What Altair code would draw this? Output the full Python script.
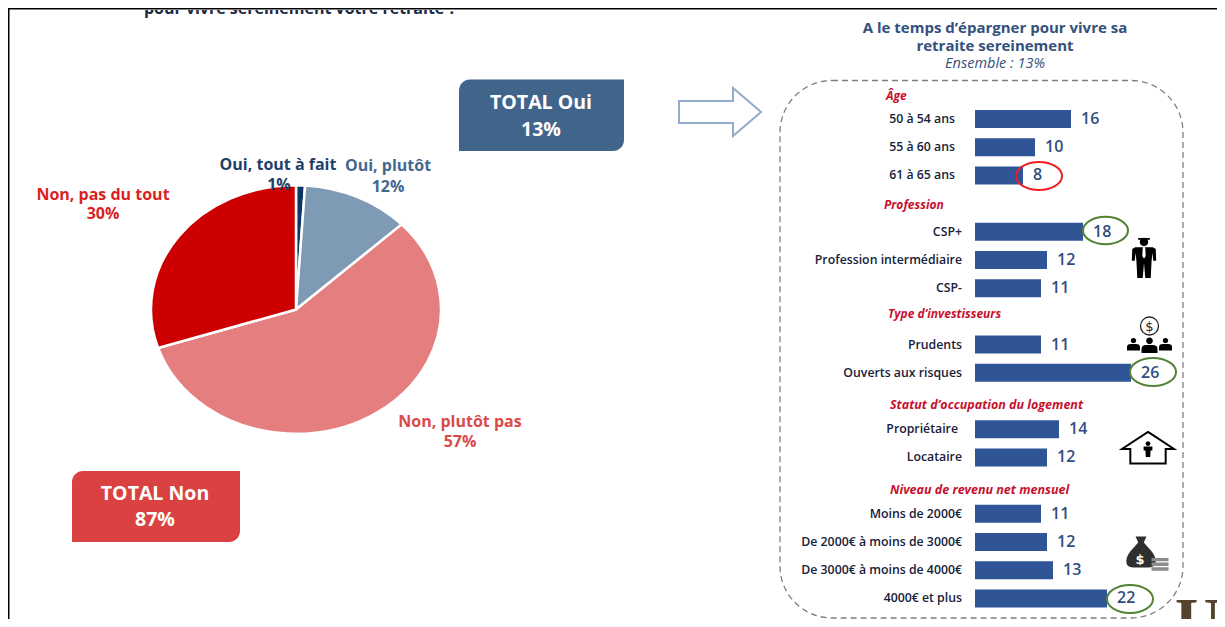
import math
import altair as alt

# --- data ---
pie_labels = ["Oui, tout à fait", "Oui, plutôt", "Non, plutôt pas", "Non, pas du tout"]
pie_values = [1, 12, 57, 30]
pie_colors = ["#0B3563", "#7F9AB5", "#E57F7F", "#CC0000"]

# regular grid of rows; the "_h" slots are where the group headings sit
grid = ["50 à 54 ans", "55 à 60 ans", "61 à 65 ans", "_h1",
        "CSP+", "Profession intermédiaire", "CSP-", "_h2",
        "Prudents", "Ouverts aux risques", "_h3",
        "Propriétaire", "Locataire", "_h4",
        "Moins de 2000€", "De 2000€ à moins de 3000€", "De 3000€ à moins de 4000€", "4000€ et plus"]
cats = [r for r in grid if not r.startswith("_")]
vals = [16, 10, 8, 18, 12, 11, 11, 26, 14, 12, 11, 12, 13, 22]

BAR = "#2F5597"
OX, OY = 8, 8
W, H = 1209, 611
sans = "Open Sans"

# the reference pie is stretched into an ellipse, so each slice is an elliptical path
K = 123.5 / 144
pie_paths = []
acc = 0.0
total = sum(pie_values)
for v in pie_values:
    a0 = 2 * math.pi * acc / total
    acc += v
    a1 = 2 * math.pi * acc / total
    large = 1 if a1 - a0 > math.pi else 0
    pie_paths.append(
        f"M 0 0 L {math.sin(a0):.4f} {-K * math.cos(a0):.4f} "
        f"A 1 {K:.4f} 0 {large} 1 {math.sin(a1):.4f} {-K * math.cos(a1):.4f} Z"
    )

pie_df = [{"label": l, "value": v} for l, v in zip(pie_labels, pie_values)]
bar_df = [{"cat": c, "value": v} for c, v in zip(cats, vals)]

xs = alt.Scale(domain=[0, 26], range=[975 - OX, 1131 - OX])
ys = alt.Scale(domain=grid, range=[104.9 - OY, 612.5 - OY], paddingInner=0.36, paddingOuter=0.18)


def P(x):
    return alt.value(x - OX)


def Q(y):
    return alt.value(y - OY)


def txt(t, x, y, size=12, color="#000000", weight="bold", style="normal", align="center", font=sans):
    return alt.Chart(alt.Data(values=[{"t": t}])).mark_text(
        fontSize=size, color=color, fontWeight=weight, fontStyle=style, align=align,
        baseline="middle", font=font
    ).encode(x=P(x), y=Q(y + 0.8), text="t:N")


def sym(shape, x, y, span, stroke=None, fill=None, sw=2):
    kw = {"shape": shape, "size": span * span, "filled": fill is not None, "opacity": 1}
    if fill is not None:
        kw["fill"] = fill
    if stroke is not None:
        kw["stroke"] = stroke
        kw["strokeWidth"] = sw
    else:
        kw["strokeWidth"] = 0
    return alt.Chart(alt.Data(values=[{"a": 1}])).mark_point(**kw).encode(x=P(x), y=Q(y))


def box(x1, x2, y1, y2, color):
    return alt.Chart(alt.Data(values=[{"a": 1}])).mark_rect(
        color=color, cornerRadiusTopLeft=11, cornerRadiusBottomRight=11
    ).encode(x=P(x1), x2=P(x2), y=Q(y1), y2=Q(y2))


ELL = "M -1 0 A 1 0.61 0 1 1 1 0 A 1 0.61 0 1 1 -1 0 Z"
ARROW = "M -1 -0.27 L 0.317 -0.27 L 0.317 -0.585 L 1 0 L 0.317 0.585 L 0.317 0.27 L -1 0.27 Z"
WORKER = ("M -0.2 -0.72 A 0.2 0.2 0 1 1 0.2 -0.72 A 0.2 0.2 0 1 1 -0.2 -0.72 Z "
          "M -0.28 -0.9 L 0.28 -0.9 L 0.28 -0.82 L -0.28 -0.82 Z "
          "M -0.42 -0.46 L 0.42 -0.46 L 0.56 -0.38 L 0.58 0.18 L 0.44 0.18 L 0.4 -0.2 "
          "L 0.36 0.2 L 0.32 1 L 0.06 1 L 0 0.3 L -0.06 1 L -0.32 1 L -0.36 0.2 L -0.4 -0.2 "
          "L -0.44 0.18 L -0.58 0.18 L -0.56 -0.38 Z")
TIE = "M -0.06 -0.46 L 0.06 -0.46 L 0.08 -0.05 L 0 0.08 L -0.08 -0.05 Z"
PERSON = ("M -0.42 -0.52 A 0.42 0.42 0 1 1 0.42 -0.52 A 0.42 0.42 0 1 1 -0.42 -0.52 Z "
          "M -1 1 L -1 0.5 Q -1 0 -0.4 0 L 0.4 0 Q 1 0 1 0.5 L 1 1 Z")
HOUSE = "M 0 -0.62 L 1 0.04 L 0.68 0.04 L 0.68 0.6 L -0.68 0.6 L -0.68 0.04 L -1 0.04 Z"
TINY = ("M -0.3 -0.68 A 0.3 0.3 0 1 1 0.3 -0.68 A 0.3 0.3 0 1 1 -0.3 -0.68 Z "
        "M -0.55 -0.3 L 0.55 -0.3 L 0.55 0.2 L 0.32 0.2 L 0.28 1 L -0.28 1 L -0.32 0.2 L -0.55 0.2 Z")
BAG = ("M -0.35 -1 L 0.35 -1 L 0.18 -0.62 L 0.45 -0.3 Q 0.95 0.2 0.95 0.6 Q 0.95 1 0.5 1 "
       "L -0.5 1 Q -0.95 1 -0.95 0.6 Q -0.95 0.2 -0.45 -0.3 L -0.18 -0.62 Z")
COINS = ("M -1 -0.6 L 1 -0.6 L 1 -0.2 L -1 -0.2 Z M -1 -0.05 L 1 -0.05 L 1 0.35 L -1 0.35 Z "
         "M -1 0.5 L 1 0.5 L 1 0.9 L -1 0.9 Z")

title_clip = txt("pour vivre sereinement votre retraite ?", 300, 8, 16, "#1B2B45")
white_top = alt.Chart(alt.Data(values=[{"a": 1}])).mark_rect(color="#FFFFFF").encode(
    x=alt.value(0), x2=alt.value(W), y=alt.value(0), y2=alt.value(2))
top_line = alt.Chart(alt.Data(values=[{"a": 1}])).mark_rule(color="#000000", strokeWidth=2).encode(
    x=alt.value(0), x2=alt.value(W), y=alt.value(0.5))
left_line = alt.Chart(alt.Data(values=[{"a": 1}])).mark_rule(color="#000000", strokeWidth=2).encode(
    x=alt.value(0.5), y=alt.value(0), y2=alt.value(H))

pie = alt.Chart(alt.Data(values=pie_df)).mark_point(
    filled=True, size=290 * 290, stroke="#FFFFFF", strokeWidth=2.5, opacity=1
).encode(
    shape=alt.Shape("label:N", scale=alt.Scale(domain=pie_labels, range=pie_paths), legend=None),
    color=alt.Color("label:N", scale=alt.Scale(domain=pie_labels, range=pie_colors), legend=None),
    x=P(296), y=Q(309.5),
)

bars = alt.Chart(alt.Data(values=bar_df)).mark_bar(color=BAR).encode(
    x=alt.X("value:Q", scale=xs, axis=None),
    y=alt.Y("cat:N", scale=ys, axis=None),
)
val_txt = alt.Chart(alt.Data(values=bar_df)).mark_text(
    align="left", dx=10, dy=0, fontSize=16, color="#2F4E80", fontWeight=600, font=sans, baseline="middle"
).encode(
    x=alt.X("value:Q", scale=xs, axis=None),
    y=alt.Y("cat:N", scale=ys, axis=None),
    text="value:Q",
)
cat_txt = alt.Chart(alt.Data(values=bar_df)).transform_calculate(
    right="indexof(['50 à 54 ans','55 à 60 ans','61 à 65 ans'], datum.cat) >= 0 ? 947 : (datum.cat == 'Propriétaire' ? 950 : 954)"
).mark_text(
    align="right", fontSize=12.3, color="#16213A", fontWeight=600, font=sans, baseline="middle", dy=0
).encode(
    x=alt.X("right:Q", scale=None),
    y=alt.Y("cat:N", scale=ys, axis=None),
    text="cat:N",
)

RED = "#C8102E"
layers = [
    title_clip, white_top, top_line, left_line,
    pie,
    box(459, 624, 79.5, 151, "#41658A"),
    txt("TOTAL Oui", 541, 102, 19.5, "#FFFFFF"),
    txt("13%", 541, 129, 19.5, "#FFFFFF"),
    box(72, 240, 471, 542, "#DA4141"),
    txt("TOTAL Non", 155, 493, 19.5, "#FFFFFF"),
    txt("87%", 155, 519, 19.5, "#FFFFFF"),
    txt("Oui, tout à fait", 278, 164, 16, "#1F3F6B"),
    txt("1%", 279, 184, 16, "#1F3F6B"),
    txt("Oui, plutôt", 388, 165, 16, "#44678F"),
    txt("12%", 388, 186, 16, "#44678F"),
    txt("Non, pas du tout", 103, 194, 16, "#DC1F1F"),
    txt("30%", 103, 213, 16, "#DC1F1F"),
    txt("Non, plutôt pas", 460, 421, 16, "#DA4A4A"),
    txt("57%", 460, 441, 16, "#DA4A4A"),
    sym(ARROW, 720, 112, 82, stroke="#92ABC8", fill="#FFFFFF", sw=2),
    txt("A le temps d’épargner pour vivre sa", 995, 27, 15, "#34507C"),
    txt("retraite sereinement", 995, 45, 15, "#34507C"),
    txt("Ensemble : 13%", 995, 63, 14.5, "#34507C", weight="normal", style="italic"),
    alt.Chart(alt.Data(values=[{"a": 1}])).mark_rect(
        fill="transparent", stroke="#808080", strokeWidth=1.3, strokeDash=[6, 4], cornerRadius=52
    ).encode(x=P(780), x2=P(1183), y=Q(80.5), y2=Q(618)),
    bars, cat_txt, val_txt,
    txt("Âge", 886, 95, 12, RED, style="italic", align="left"),
    txt("Profession", 884, 204, 12, RED, style="italic", align="left"),
    txt("Type d’investisseurs", 888, 313, 12, RED, style="italic", align="left"),
    txt("Statut d’occupation du logement", 890, 404, 12.5, RED, style="italic", align="left"),
    txt("Niveau de revenu net mensuel", 890, 489, 12.5, RED, style="italic", align="left"),
    sym(ELL, 1039, 176, 46, stroke="#EE1C25"),
    sym(ELL, 1105.5, 230.5, 45, stroke="#548235"),
    sym(ELL, 1153, 372, 46, stroke="#548235"),
    sym(ELL, 1130, 599, 46, stroke="#548235"),
    sym(WORKER, 1144, 257, 42, fill="#000000"),
    sym(TIE, 1144, 257, 42, fill="#FFFFFF"),
    sym("circle", 1149.5, 326, 18, stroke="#222222", fill="#FFFFFF", sw=1.3),
    txt("$", 1149.5, 326, 13, "#222222", weight="normal", font="DejaVu Sans"),
    sym(PERSON, 1133.5, 344, 13, fill="#000000"),
    sym(PERSON, 1149.5, 345, 16, fill="#000000"),
    sym(PERSON, 1165.5, 344, 13, fill="#000000"),
    sym(HOUSE, 1148, 448, 52, stroke="#000000", fill="#FFFFFF", sw=2),
    sym(TINY, 1148, 449, 16, fill="#000000"),
    sym(BAG, 1141, 552, 31, fill="#2F2F2F"),
    txt("$", 1140, 559, 13, "#FFFFFF", font="DejaVu Sans"),
    sym(COINS, 1160, 563, 17, fill="#8C8C8C"),
    txt("U", 1198, 622, 64, "#54442E", weight="bold", font="Liberation Serif"),
]

chart = alt.layer(*layers).resolve_scale(
    x="independent", y="independent", color="independent", shape="independent"
).properties(
    width=W, height=H, padding=0, autosize="none", background="#FFFFFF"
).configure_view(stroke=None)

chart.save("out.html", embed_options={"renderer": "svg", "actions": False})
